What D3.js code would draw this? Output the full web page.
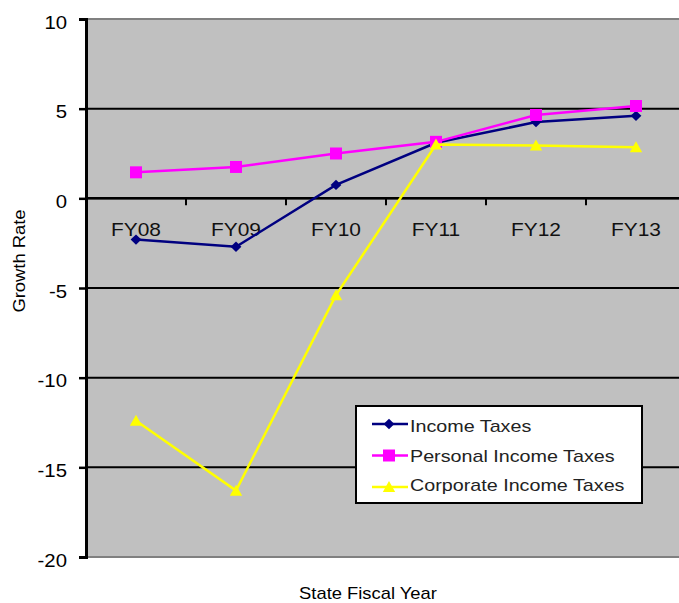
<!DOCTYPE html>
<html>
<head>
<meta charset="utf-8">
<script src="https://cdn.jsdelivr.net/npm/d3@7"></script>
<style>
  html, body { margin: 0; padding: 0; background: #fff; }
  svg { display: block; font-family: "Liberation Sans", Arial, sans-serif; }
</style>
</head>
<body>
<svg id="chart" width="679" height="603"></svg>
<script>
// Fiscal years on the category axis
const years = ["FY08", "FY09", "FY10", "FY11", "FY12", "FY13"];

// Growth rates (%) by tax type
const incomeTaxes = [-2.3, -2.7, 0.75, 3.1, 4.25, 4.6];
const personalIncomeTaxes = [1.45, 1.75, 2.5, 3.15, 4.65, 5.15];
const corporateIncomeTaxes = [-12.4, -16.3, -5.4, 3.0, 2.95, 2.85];

const yTicks = [10, 5, 0, -5, -10, -15, -20];

// Marker shapes
const diamond = {
  draw(ctx, size) {
    const w = 5.4, h = 5.2;
    ctx.moveTo(0, -h); ctx.lineTo(w, 0); ctx.lineTo(0, h); ctx.lineTo(-w, 0); ctx.closePath();
  }
};
const square = {
  draw(ctx, size) {
    const s = 6;
    ctx.moveTo(-s, -s); ctx.lineTo(s, -s); ctx.lineTo(s, s); ctx.lineTo(-s, s); ctx.closePath();
  }
};
const triangle = {
  draw(ctx, size) {
    ctx.moveTo(0, -6); ctx.lineTo(6.2, 5); ctx.lineTo(-6.2, 5); ctx.closePath();
  }
};

const series = [
  { name: "Income Taxes", values: incomeTaxes, color: "#000080", symbol: diamond },
  { name: "Personal Income Taxes", values: personalIncomeTaxes, color: "#FF00FF", symbol: square },
  { name: "Corporate Income Taxes", values: corporateIncomeTaxes, color: "#FFFF00", symbol: triangle }
];

const svg = d3.select("#chart");
const plot = { left: 86, top: 19, width: 600, height: 538 };

const x = d3.scalePoint().domain(years).range([plot.left + 50, plot.left + plot.width - 50]);
const xBand = d3.scaleBand().domain(years).range([plot.left, plot.left + plot.width]);
const y = d3.scaleLinear().domain([-20, 10]).range([plot.top + plot.height, plot.top]);

// Widen text glyphs horizontally by a factor
function stretch(sel, k) {
  sel.each(function () {
    const len = this.getComputedTextLength();
    d3.select(this).attr("textLength", len * k).attr("lengthAdjust", "spacingAndGlyphs");
  });
}

// Plot background
svg.append("rect")
  .attr("x", plot.left).attr("y", plot.top)
  .attr("width", plot.width).attr("height", plot.height)
  .attr("fill", "#C0C0C0");

// Plot frame (top and bottom edges in grey)
svg.append("line")
  .attr("x1", plot.left).attr("x2", plot.left + plot.width)
  .attr("y1", plot.top).attr("y2", plot.top)
  .attr("stroke", "#808080").attr("stroke-width", 2);
svg.append("line")
  .attr("x1", plot.left).attr("x2", plot.left + plot.width)
  .attr("y1", plot.top + plot.height).attr("y2", plot.top + plot.height)
  .attr("stroke", "#808080").attr("stroke-width", 2);

// Horizontal gridlines
svg.append("g")
  .selectAll("line")
  .data(yTicks.filter(t => t !== 10 && t !== -20))
  .join("line")
  .attr("x1", plot.left).attr("x2", plot.left + plot.width)
  .attr("y1", d => y(d)).attr("y2", d => y(d))
  .attr("stroke", "#000").attr("stroke-width", 2);

// Y axis
const yAxis = svg.append("g")
  .attr("transform", `translate(${plot.left},0)`)
  .call(d3.axisLeft(y).tickValues(yTicks).tickSize(7).tickPadding(12).tickFormat(d3.format("d")));
yAxis.select(".domain").attr("stroke", "#000").attr("stroke-width", 3);
yAxis.selectAll(".tick line").attr("stroke", "#000").attr("stroke-width", 2.5);
yAxis.selectAll(".tick text")
  .attr("font-size", 18.5).attr("fill", "#000").attr("dy", "0.5em")
  .attr("font-family", "'Liberation Sans', Arial, sans-serif")
  .text(d => d < 0 ? "-" + Math.abs(d) : d)
  .call(stretch, 1.1);

// X axis sits on the zero line, with ticks between categories
const xAxisG = svg.append("g").attr("transform", `translate(0,${y(0)})`);
xAxisG.append("line")
  .attr("x1", plot.left).attr("x2", plot.left + plot.width)
  .attr("stroke", "#000").attr("stroke-width", 2.5);
xAxisG.selectAll("line.tick")
  .data(years.slice(1))
  .join("line")
  .attr("class", "tick")
  .attr("x1", d => xBand(d)).attr("x2", d => xBand(d))
  .attr("y1", 0).attr("y2", 7)
  .attr("stroke", "#000").attr("stroke-width", 2);
xAxisG.selectAll("text")
  .data(years)
  .join("text")
  .attr("x", d => x(d))
  .attr("y", 38)
  .attr("text-anchor", "middle")
  .attr("font-size", 19)
  .attr("fill", "#111")
  .text(d => d)
  .call(stretch, 1.1);

// Lines and markers
const line = d3.line().x((d, i) => x(years[i])).y(d => y(d));
series.forEach(s => {
  svg.append("path")
    .datum(s.values)
    .attr("d", line)
    .attr("fill", "none")
    .attr("stroke", s.color)
    .attr("stroke-width", 2.5);
  svg.append("g")
    .selectAll("path")
    .data(s.values)
    .join("path")
    .attr("transform", (d, i) => `translate(${x(years[i])},${y(d)})`)
    .attr("d", d3.symbol().type(s.symbol))
    .attr("fill", s.color);
});

// Axis titles
svg.append("text")
  .attr("transform", "translate(25,261) rotate(-90)")
  .attr("text-anchor", "middle")
  .attr("font-size", 17)
  .attr("fill", "#000")
  .text("Growth Rate")
  .call(stretch, 1.08);
svg.append("text")
  .attr("x", 368).attr("y", 599)
  .attr("text-anchor", "middle")
  .attr("font-size", 17)
  .attr("fill", "#000")
  .text("State Fiscal Year")
  .call(stretch, 1.08);

// Legend
const legend = svg.append("g").attr("transform", "translate(356,406)");
legend.append("rect")
  .attr("width", 286).attr("height", 97)
  .attr("fill", "#fff").attr("stroke", "#000").attr("stroke-width", 2);
series.forEach((s, i) => {
  const lineY = 18 + i * 31.5;
  legend.append("line")
    .attr("x1", 16).attr("x2", 52)
    .attr("y1", lineY).attr("y2", lineY)
    .attr("stroke", s.color).attr("stroke-width", 2.5);
  legend.append("path")
    .attr("transform", `translate(33,${lineY})`)
    .attr("d", d3.symbol().type(s.symbol))
    .attr("fill", s.color);
  legend.append("text")
    .attr("x", 54).attr("y", 26 + i * 29.5)
    .attr("font-size", 17)
    .attr("fill", "#222")
    .text(s.name)
    .call(stretch, 1.16);
});
</script>
</body>
</html>
